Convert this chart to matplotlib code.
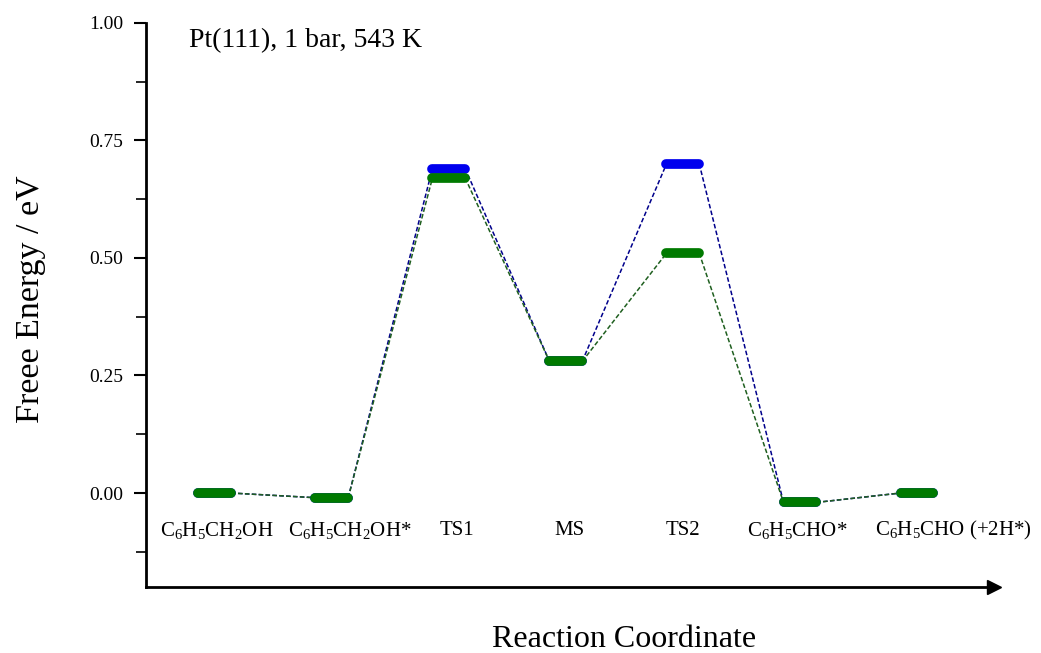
import numpy as np
import matplotlib.pyplot as plt
from matplotlib.ticker import MultipleLocator

plt.rcParams['font.family'] = ['Liberation Serif', 'DejaVu Serif']
plt.rcParams['mathtext.default'] = 'regular'

# free energy profile, eV
states = [r'C$_6$H$_5$CH$_2$OH', r'C$_6$H$_5$CH$_2$OH*', 'TS1', 'MS', 'TS2',
          r'C$_6$H$_5$CHO*', r'C$_6$H$_5$CHO (+2H*)']
energy_blue = [0.00, -0.01, 0.69, 0.28, 0.70, -0.02, 0.00]
energy_green = [0.00, -0.01, 0.67, 0.28, 0.51, -0.02, 0.00]

# horizontal nudge of each state label relative to its level
label_shift = [0.02, 0.15, 0.07, 0.03, 0.0, -0.02, 0.31]

half = 0.14  # half width of each level bar


def draw_profile(ax, energies, color, line_color):
    x = np.arange(1, len(energies) + 1)
    # dashed connectors from the right end of one level to the left end of the next
    for i in range(len(energies) - 1):
        ax.plot([x[i] + half, x[i + 1] - half], [energies[i], energies[i + 1]],
                ls=(0, (3, 1.5)), lw=1.1, color=line_color, zorder=2)
    for xi, e in zip(x, energies):
        ax.plot([xi - half, xi + half], [e, e], lw=7, color=color,
                solid_capstyle='round', zorder=3)


fig = plt.figure(figsize=(10.41, 6.53), dpi=100)
ax = fig.add_axes([0.140, 0.101, 0.815, 0.864])

draw_profile(ax, energy_blue, '#0000ee', '#00008b')
draw_profile(ax, energy_green, '#007a00', '#1f5f1f')

for i, lab in enumerate(states):
    ax.text(i + 1 + label_shift[i], -0.08, lab, ha='center', va='center', fontsize=15)

ax.text(0.051, 0.968, 'Pt(111), 1 bar, 543 K', fontsize=20, ha='left', va='center',
        transform=ax.transAxes)

ax.set_xlim(0.41, 7.66)
ax.set_ylim(-0.2, 1.0)
ax.yaxis.set_major_locator(MultipleLocator(0.25))
ax.yaxis.set_minor_locator(MultipleLocator(0.125))
ax.yaxis.set_major_formatter(plt.FormatStrFormatter('%.2f'))
ax.set_xticks([])
ax.tick_params(axis='y', which='major', length=9, width=1.5, labelsize=14, pad=7,
               direction='out')
ax.tick_params(axis='y', which='minor', length=7, width=1.2, direction='out')

for side in ['top', 'right']:
    ax.spines[side].set_visible(False)
for side in ['left', 'bottom']:
    ax.spines[side].set_linewidth(2)

# arrowhead on the reaction coordinate
ax.plot(1.0, 0, marker='>', color='black', markersize=10, transform=ax.transAxes,
        clip_on=False)

ax.set_ylabel('Freee Energy / eV', fontsize=24.5)
ax.yaxis.set_label_coords(-0.118, 0.51)
ax.set_xlabel('Reaction Coordinate', fontsize=23, labelpad=27)
ax.xaxis.label.set_x(0.564)

fig.savefig('out.png', dpi=100)
